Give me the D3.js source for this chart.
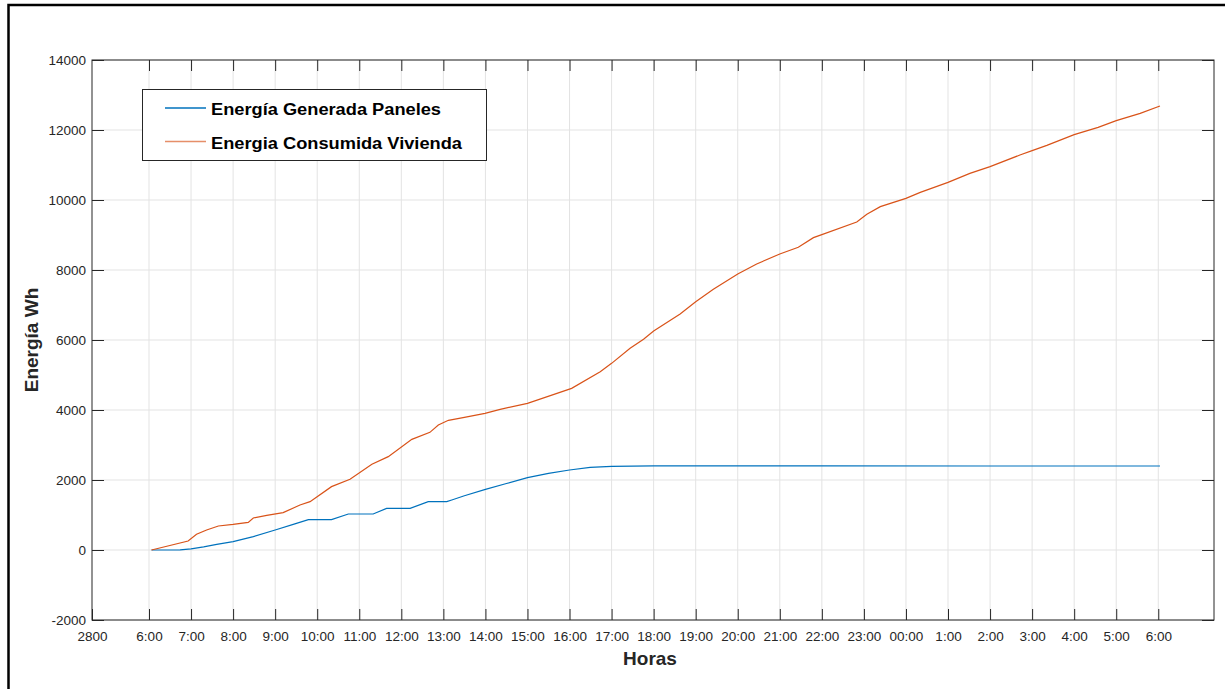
<!DOCTYPE html>
<html>
<head>
<meta charset="utf-8">
<script src="https://cdn.jsdelivr.net/npm/d3@7"></script>
<style>
  html, body { margin: 0; padding: 0; background: #fff; }
  svg { display: block; font-family: "Liberation Sans", Arial, Helvetica, sans-serif; }
</style>
</head>
<body>
<svg id="chart" width="1225" height="689"></svg>
<script>
// Hours after 06:00 for each reading, and cumulative energy (Wh)
const genHours = [0.06, 0.5, 0.74, 1.0, 1.3, 1.61, 2.0, 2.48, 3.0, 3.43, 3.79, 4.34, 4.74, 5.33,
  5.65, 6.21, 6.64, 7.08, 7.2, 7.5, 8.0, 8.5, 9.0, 9.5, 10.0, 10.49, 11.0, 12.0, 13.0, 16.0,
  20.0, 24.04];
const genValues = [0, 0, 5, 30, 90, 162, 238, 381, 571, 733, 866, 866, 1029, 1029,
  1190, 1190, 1381, 1381, 1429, 1550, 1733, 1900, 2067, 2190, 2286, 2362, 2390, 2405, 2405, 2402,
  2400, 2400];

const conHours = [0.06, 0.93, 1.13, 1.37, 1.65, 2.0, 2.36, 2.48, 2.8, 3.19, 3.59, 3.83, 4.34,
  4.78, 5.30, 5.69, 6.25, 6.68, 6.88, 7.12, 7.5, 7.99, 8.35, 9.0, 10.05, 10.73, 11.0, 11.44,
  11.76, 12.0, 12.63, 13.0, 13.42, 14.0, 14.45, 15.0, 15.44, 15.8, 16.0, 16.83, 17.07, 17.39,
  18.0, 18.34, 19.0, 19.52, 20.0, 20.71, 21.0, 21.35, 22.0, 22.57, 23.0, 23.57, 24.04];
const conValues = [0, 257, 448, 571, 686, 730, 790, 914, 990, 1067, 1286, 1381, 1810,
  2019, 2448, 2667, 3162, 3362, 3571, 3705, 3790, 3905, 4019, 4190, 4619, 5095, 5333, 5762,
  6019, 6257, 6743, 7095, 7448, 7886, 8171, 8457, 8648, 8924, 9010, 9371, 9590, 9810,
  10048, 10219, 10505, 10762, 10952, 11286, 11410, 11562, 11867, 12076, 12267, 12476, 12686];

// X axis: the left edge carries its own label, then one tick per hour
const xDomain = [-1.3554, 25.325];
const xEdgeLabel = "2800";
const xTickHours = d3.range(0, 25);
const xTickLabels = ["6:00", "7:00", "8:00", "9:00", "10:00", "11:00", "12:00", "13:00",
  "14:00", "15:00", "16:00", "17:00", "18:00", "19:00", "20:00", "21:00", "22:00", "23:00",
  "00:00", "1:00", "2:00", "3:00", "4:00", "5:00", "6:00"];
const yTicks = [-2000, 0, 2000, 4000, 6000, 8000, 10000, 12000, 14000];

const seriesNames = ["Energía Generada Paneles", "Energia Consumida Vivienda"];
const seriesColors = ["#0072BD", "#D95319"];

const svg = d3.select("#chart");
const W = 1225, H = 689;
const plot = { left: 92, top: 60, right: 1214, bottom: 620 };
const axisColor = "#262626";
const gridColor = "#e3e3e3";

// Figure frame
svg.append("rect")
  .attr("x", 8.5).attr("y", 5)
  .attr("width", W + 20).attr("height", H + 20)
  .attr("fill", "#fff").attr("stroke", "#000").attr("stroke-width", 2.5);

const x = d3.scaleLinear().domain(xDomain).range([plot.left, plot.right]);
const y = d3.scaleLinear().domain([-2000, 14000]).range([plot.bottom, plot.top]);

// Grid
const grid = svg.append("g");
grid.selectAll("line.gx").data(xTickHours).join("line")
  .attr("x1", d => x(d)).attr("x2", d => x(d))
  .attr("y1", plot.top).attr("y2", plot.bottom)
  .attr("stroke", gridColor).attr("stroke-width", 1);
grid.selectAll("line.gy").data(yTicks).join("line")
  .attr("x1", plot.left).attr("x2", plot.right)
  .attr("y1", d => y(d)).attr("y2", d => y(d))
  .attr("stroke", gridColor).attr("stroke-width", 1);

// Axes (ticks pointing inward on all four sides)
const xTickValues = [xDomain[0], ...xTickHours];
const xLabel = (d, i) => i === 0 ? xEdgeLabel : xTickLabels[i - 1];
const yLabel = d => String(d); // plain hyphen for negatives

function styleAxis(g) {
  g.select(".domain").remove();
  g.selectAll(".tick line").attr("stroke", axisColor).attr("stroke-width", 1);
  g.selectAll(".tick text").attr("fill", axisColor)
    .style("font-size", "13.5px");
}

svg.append("g").attr("transform", `translate(0,${plot.bottom})`)
  .call(d3.axisBottom(x).tickValues(xTickValues).tickFormat(xLabel)
    .tickSizeInner(-11).tickSizeOuter(0).tickPadding(11))
  .call(styleAxis);
svg.append("g").attr("transform", `translate(0,${plot.top})`)
  .call(d3.axisTop(x).tickValues(xTickHours).tickFormat("")
    .tickSizeInner(-11).tickSizeOuter(0))
  .call(styleAxis);
svg.append("g").attr("transform", `translate(${plot.left},0)`)
  .call(d3.axisLeft(y).tickValues(yTicks).tickFormat(yLabel)
    .tickSizeInner(-12).tickSizeOuter(0).tickPadding(6))
  .call(styleAxis);
svg.append("g").attr("transform", `translate(${plot.right},0)`)
  .call(d3.axisRight(y).tickValues(yTicks).tickFormat("")
    .tickSizeInner(-12).tickSizeOuter(0))
  .call(styleAxis);

// Axes box
svg.append("rect")
  .attr("x", plot.left).attr("y", plot.top)
  .attr("width", plot.right - plot.left).attr("height", plot.bottom - plot.top)
  .attr("fill", "none").attr("stroke", axisColor).attr("stroke-width", 1);

// Series
const line = d3.line().x(d => x(d[0])).y(d => y(d[1]));
const genData = d3.zip(genHours, genValues);
const conData = d3.zip(conHours, conValues);
svg.append("path").datum(genData).attr("d", line)
  .attr("fill", "none").attr("stroke", seriesColors[0]).attr("stroke-width", 1.2);
svg.append("path").datum(conData).attr("d", line)
  .attr("fill", "none").attr("stroke", seriesColors[1]).attr("stroke-width", 1.2);

// Axis titles
svg.append("text")
  .attr("x", (plot.left + plot.right) / 2 - 3).attr("y", 665)
  .attr("text-anchor", "middle")
  .attr("fill", axisColor).attr("font-weight", "bold").style("font-size", "19px")
  .text("Horas");
svg.append("text")
  .attr("transform", `translate(38,${(plot.top + plot.bottom) / 2}) rotate(-90)`)
  .attr("text-anchor", "middle")
  .attr("fill", axisColor).attr("font-weight", "bold").style("font-size", "19px")
  .text("Energía Wh");

// Legend
const legend = svg.append("g");
legend.append("rect")
  .attr("x", 142.5).attr("y", 89.5).attr("width", 344).attr("height", 71)
  .attr("fill", "#fff").attr("stroke", axisColor).attr("stroke-width", 1);
const legendRows = [
  { name: seriesNames[0], color: seriesColors[0], y: 108, width: 230, opacity: 1 },
  { name: seriesNames[1], color: seriesColors[1], y: 141.5, width: 251, opacity: 0.65 }
];
legendRows.forEach(r => {
  legend.append("line")
    .attr("x1", 165).attr("x2", 206).attr("y1", r.y).attr("y2", r.y)
    .attr("stroke", r.color).attr("stroke-opacity", r.opacity).attr("stroke-width", 1.4);
  legend.append("text")
    .attr("x", 211).attr("y", r.y + 7)
    .attr("fill", "#000").attr("font-weight", "bold").style("font-size", "16px")
    .attr("textLength", r.width).attr("lengthAdjust", "spacingAndGlyphs")
    .text(r.name);
});
</script>
</body>
</html>
